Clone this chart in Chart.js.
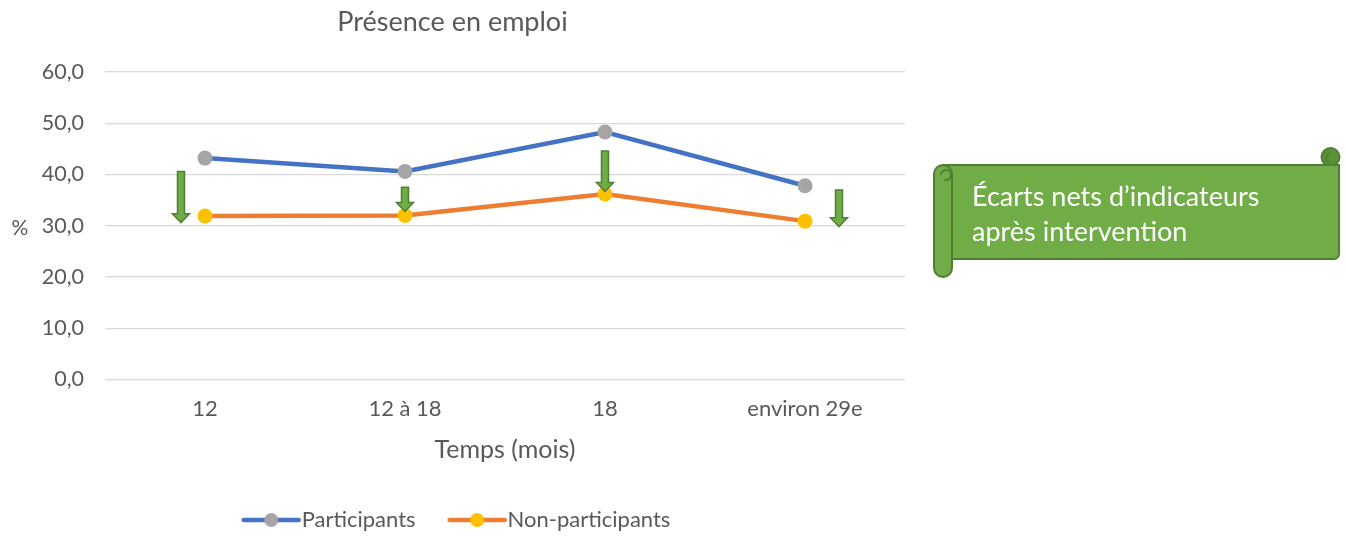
<!DOCTYPE html>
<html>
<head>
<meta charset="utf-8">
<script src="https://cdn.jsdelivr.net/npm/chart.js@4"></script>
<style>
  body { margin: 0; background: #fff; }
  #wrap { width: 1346px; height: 536px; }
</style>
</head>
<body>
<div id="wrap"><canvas id="chart1" width="1346" height="536"></canvas></div>
<script>
var categories = ['12', '12 à 18', '18', 'environ 29e'];
var participants = [43.2, 40.6, 48.3, 37.8];
var nonParticipants = [31.9, 32.0, 36.2, 30.9];

// green arrows: position on the category axis, start and end value
var arrowPos = [-0.12, 1.0, 2.0, 3.17];
var arrowFrom = [40.6, 37.5, 44.6, 37.0];
var arrowTo = [30.6, 32.8, 36.7, 29.8];

var bannerLines = ['Écarts nets d\u2019indicateurs', 'après intervention'];

var textColor = '#595959';
var fontFamily = 'Lato, "Open Sans", sans-serif';

function legendIcon(lineColor, dotColor) {
    var c = document.createElement('canvas');
    c.width = 100;
    c.height = 18;
    var g = c.getContext('2d');
    g.strokeStyle = lineColor;
    g.lineWidth = 4.5;
    g.lineCap = 'round';
    g.beginPath();
    g.moveTo(41, 9);
    g.lineTo(96, 9);
    g.stroke();
    g.fillStyle = dotColor;
    g.beginPath();
    g.arc(68.5, 9, 7, 0, Math.PI * 2);
    g.fill();
    return c;
}

var icons = [legendIcon('#4472C4', '#A5A5A5'), legendIcon('#ED7D31', '#FFC000')];

var extras = {
    id: 'extras',
    afterLayout: function(chart) {
        // nudge the legend row a little to the left
        if (chart.legend) {
            chart.legend.left -= 10;
            chart.legend.right -= 10;
        }
    },
    afterDatasetsDraw: function(chart) {
        var ctx = chart.ctx;
        var xs = chart.scales.x;
        var ys = chart.scales.y;
        ctx.save();
        for (var i = 0; i < arrowPos.length; i++) {
            var x = xs.getPixelForValue(arrowPos[i]);
            var y1 = ys.getPixelForValue(arrowFrom[i]);
            var y2 = ys.getPixelForValue(arrowTo[i]);
            var hw = 3.5, headW = 8.5, headH = 9;
            ctx.beginPath();
            ctx.moveTo(x - hw, y1);
            ctx.lineTo(x + hw, y1);
            ctx.lineTo(x + hw, y2 - headH);
            ctx.lineTo(x + headW, y2 - headH);
            ctx.lineTo(x, y2);
            ctx.lineTo(x - headW, y2 - headH);
            ctx.lineTo(x - hw, y2 - headH);
            ctx.closePath();
            ctx.fillStyle = '#70AD47';
            ctx.fill();
            ctx.strokeStyle = '#507E32';
            ctx.lineWidth = 1.5;
            ctx.stroke();
        }
        ctx.restore();
    },
    afterDraw: function(chart) {
        var ctx = chart.ctx;
        var area = chart.chartArea;
        ctx.save();
        // y axis title, horizontal
        ctx.fillStyle = textColor;
        ctx.font = '21px ' + fontFamily;
        ctx.textAlign = 'center';
        ctx.textBaseline = 'middle';
        ctx.fillText('%', 20, (area.top + area.bottom) / 2 + 2);

        // scroll banner
        var fill = '#70AD47', line = '#507E32';
        ctx.lineWidth = 2;
        ctx.strokeStyle = line;
        ctx.fillStyle = '#5A9139';
        ctx.beginPath();
        ctx.arc(1330.5, 157, 9, 0, Math.PI * 2);
        ctx.fill();
        ctx.stroke();
        ctx.fillStyle = fill;
        ctx.beginPath();
        ctx.roundRect(944, 165, 395, 94, [0, 0, 5, 0]);
        ctx.fill();
        ctx.stroke();
        ctx.beginPath();
        ctx.roundRect(934, 165, 18, 112, 9);
        ctx.fill();
        ctx.stroke();
        ctx.beginPath();
        ctx.arc(946, 175, 5, Math.PI, Math.PI * 2.6);
        ctx.stroke();
        ctx.beginPath();
        ctx.arc(1330, 158, 4, 0.5 * Math.PI, 1.5 * Math.PI);
        ctx.stroke();

        ctx.fillStyle = '#ffffff';
        ctx.font = '27px ' + fontFamily;
        ctx.textAlign = 'left';
        ctx.fillText(bannerLines[0], 972, 197);
        ctx.fillText(bannerLines[1], 972, 232);
        ctx.restore();
    }
};

function makeChart() {
    var ctx1 = document.getElementById('chart1').getContext('2d');
    var chart1 = new Chart(ctx1, {
        type: 'line',
        data: {
            labels: categories,
            datasets: [{
                label: 'Participants',
                data: participants,
                borderColor: '#4472C4',
                backgroundColor: '#A5A5A5',
                pointBackgroundColor: '#A5A5A5',
                pointBorderWidth: 0,
                pointRadius: 7.5,
                borderWidth: 4.5,
                tension: 0
            },
            {
                label: 'Non-participants',
                data: nonParticipants,
                borderColor: '#ED7D31',
                backgroundColor: '#FFC000',
                pointBackgroundColor: '#FFC000',
                pointBorderWidth: 0,
                pointRadius: 7.5,
                borderWidth: 4.5,
                tension: 0
            }]
        },
        options: {
            responsive: false,
            animation: false,
            events: [],
            layout: { padding: { right: 441, left: 0, top: 0, bottom: -5 } },
            plugins: {
                tooltip: { enabled: false },
                title: {
                    display: true,
                    text: 'Présence en emploi',
                    color: textColor,
                    font: { family: fontFamily, size: 27, weight: 'normal' },
                    padding: { top: 6, bottom: 33.6 }
                },
                legend: {
                    position: 'bottom',
                    labels: {
                        color: textColor,
                        font: { family: fontFamily, size: 22 },
                        usePointStyle: true,
                        pointStyleWidth: 76,
                        padding: 5,
                        generateLabels: function(chart) {
                            return chart.data.datasets.map(function(ds, i) {
                                return {
                                    text: ds.label,
                                    fontColor: textColor,
                                    pointStyle: icons[i],
                                    datasetIndex: i,
                                    lineWidth: 0
                                };
                            });
                        }
                    }
                }
            },
            scales: {
                x: {
                    offset: true,
                    grid: { display: false, drawTicks: false },
                    border: { display: false },
                    ticks: {
                        color: textColor,
                        font: { family: fontFamily, size: 22 },
                        padding: 16,
                        maxRotation: 0
                    },
                    title: {
                        display: true,
                        text: 'Temps (mois)',
                        color: textColor,
                        font: { family: fontFamily, size: 25 },
                        padding: { top: 4, bottom: 39.5 }
                    },
                    afterFit: function(scale) { scale.height = 124.5; }
                },
                y: {
                    min: 0,
                    max: 60,
                    grid: { color: '#D9D9D9', lineWidth: 1.3, drawTicks: false },
                    border: { display: false },
                    ticks: {
                        stepSize: 10,
                        color: textColor,
                        font: { family: fontFamily, size: 21.5 },
                        padding: 21,
                        callback: function(v) { return v.toFixed(1).replace('.', ','); }
                    },
                    afterFit: function(scale) { scale.width = 105; }
                }
            }
        },
        plugins: [extras]
    });
}

window.onload = function() {
    makeChart();
};
</script>
</body>
</html>
